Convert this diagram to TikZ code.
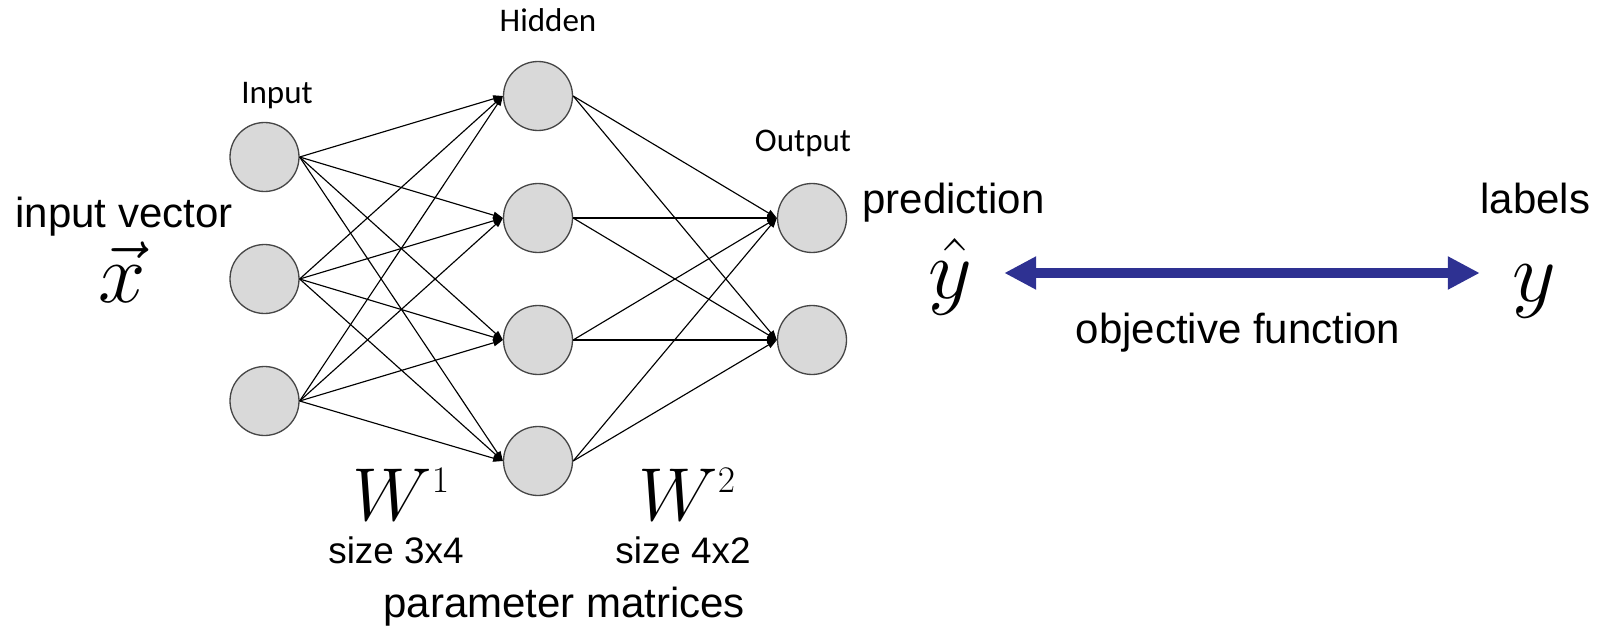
\documentclass[tikz,border=0pt]{standalone}
\usepackage{fix-cm}
\usepackage{fontspec}
\setmainfont{Liberation Sans}
\newfontfamily\calfont{Carlito}
\usetikzlibrary{arrows.meta}

\definecolor{neuronfill}{RGB}{217,217,217}
\definecolor{neuronedge}{RGB}{70,70,70}
\definecolor{objblue}{RGB}{46,49,146}

\tikzset{
  neuron/.style={circle, draw=neuronedge, line width=0.75pt, fill=neuronfill,
                 minimum size=1.38cm, inner sep=0pt},
  layerlabel/.style={font=\calfont\fontsize{18.8}{22}\selectfont, inner sep=0pt, anchor=base},
  txt/.style={font=\fontsize{23.9}{28}\selectfont, inner sep=0pt, anchor=base west},
  smalltxt/.style={font=\fontsize{21}{25}\selectfont, inner sep=0pt, anchor=base west},
  bigmath/.style={font=\fontsize{48.4}{52}\selectfont, inner sep=0pt, anchor=base},
  wmath/.style={font=\fontsize{42.7}{46}\selectfont, inner sep=0pt, anchor=base west},
  weight/.style={line width=0.65pt, black, -{Triangle[length=5.5pt,width=4pt]}},
  objective/.style={objblue, line width=0.2cm, {Triangle[length=0.64cm,width=0.62cm]}-{Triangle[length=0.64cm,width=0.62cm]}}
}

\begin{document}
\begin{tikzpicture}[x=0.02cm, y=-0.02cm]
\useasboundingbox (0,0) rectangle (1604,625);

% layers of the network
\node[neuron] (i1) at (264.5,157) {};
\node[neuron] (i2) at (264.5,279) {};
\node[neuron] (i3) at (264.5,401) {};

\node[neuron] (h1) at (538,96) {};
\node[neuron] (h2) at (538,218) {};
\node[neuron] (h3) at (538,340) {};
\node[neuron] (h4) at (538,461) {};

\node[neuron] (o1) at (812,218) {};
\node[neuron] (o2) at (812,340) {};

% fully connected weights
\foreach \a in {1,2,3}
  \foreach \b in {1,2,3,4}
    \draw[weight] (i\a.east) -- (h\b.west);
\foreach \a in {1,2,3,4}
  \foreach \b in {1,2}
    \draw[weight] (h\a.east) -- (o\b.west);

% layer names
\node[layerlabel] (linput) at (277,103) {Input};
\node[layerlabel] (lhidden) at (548,32) {Hidden};
\node[layerlabel] (loutput) at (803,151) {Output};

% input side
\node[txt] (invec) at (15,227) {input vector};
\node[bigmath] (xvec) at (122,302) {$\vec{x}$};

% prediction and labels
\node[txt] (pred) at (862,213) {prediction};
\node[bigmath] (yhat) at (950,298) {$\hat{y}$};
\node[txt] (lab) at (1480,213) {labels};
\node[bigmath] (ylab) at (1534,301) {$y$};

\coordinate (lvl) at (0,273);
\draw[objective, shorten <=0.64cm, shorten >=0.64cm] (yhat.east |- lvl) -- (ylab.west |- lvl);
\node[txt, anchor=base] (obj) at (1238,343) {objective function};

% parameter matrices
\node[wmath] (w1) at (352,520) {$W^{\scriptscriptstyle 1}$};
\node[wmath] (w2) at (638,520) {$W^{\scriptscriptstyle 2}$};
\node[smalltxt] (s1) at (328,563) {size 3x4};
\node[smalltxt] (s2) at (615,563) {size 4x2};
\node[txt] (pm) at (383,617) {parameter matrices};
\end{tikzpicture}
\end{document}
